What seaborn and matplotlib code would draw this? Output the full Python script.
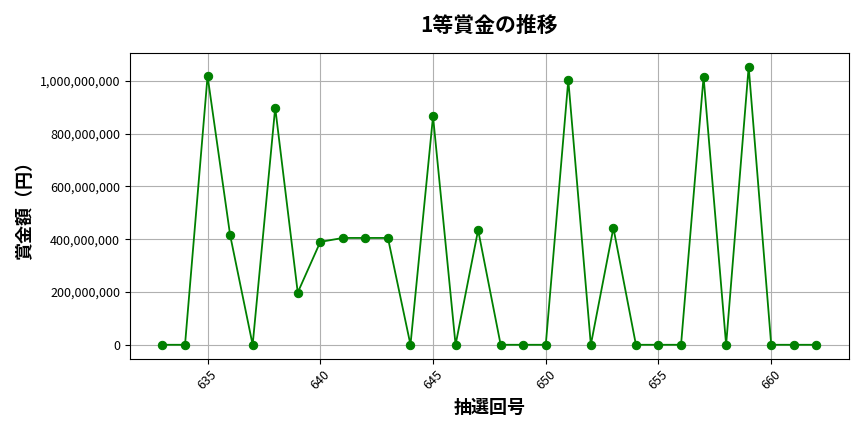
import numpy as np
import pandas as pd
import matplotlib
matplotlib.use("Agg")
import matplotlib.pyplot as plt
import matplotlib.ticker as mticker
import seaborn as sns

# 抽選回号 and 1等賞金
draws = list(range(633, 663))
prize = [0, 0, 1019000000, 416000000, 0, 899000000, 198000000,
         390000000, 405000000, 405000000, 405000000, 0, 866000000, 0,
         435000000, 0, 0, 0, 1004000000, 0, 443000000, 0, 0, 0,
         1016000000, 0, 1054000000, 0, 0, 0]

df = pd.DataFrame({"draw": draws, "prize": prize})

plt.rcParams['font.family'] = ['Noto Sans CJK JP', 'DejaVu Sans']

fig, ax = plt.subplots(figsize=(8.64, 4.32), dpi=100)
sns.lineplot(data=df, x="draw", y="prize", marker="o", color="green",
             markersize=6, markeredgecolor="green", linewidth=1.3, ax=ax)

ax.set_title("1等賞金の推移", fontsize=15, fontweight="bold", pad=15)
ax.set_xlabel("抽選回号", fontsize=13, fontweight="bold")
ax.set_ylabel("賞金額（円）", fontsize=13, fontweight="bold")
ax.yaxis.set_major_formatter(mticker.FuncFormatter(lambda v, p: f"{int(v):,}"))
ax.tick_params(labelsize=9)
ax.grid(True)
plt.xticks(rotation=45)
plt.tight_layout()
plt.savefig("out.png")
